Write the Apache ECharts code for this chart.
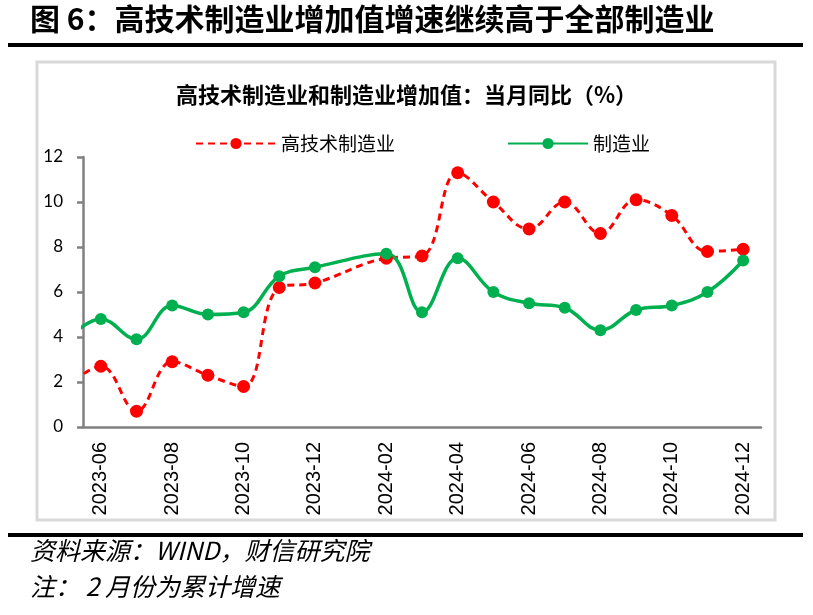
<!DOCTYPE html>
<html>
<head>
<meta charset="utf-8">
<script src="https://cdn.jsdelivr.net/npm/echarts@6/dist/echarts.min.js"></script>
<style>
html,body{margin:0;padding:0;background:#fff;}
#chart{width:813px;height:615px;}
</style>
</head>
<body>
<div id="chart"></div>
<script>
// Category axis (months shown on the axis)
const categories = ['2023-06','2023-07','2023-08','2023-09','2023-10','2023-11','2023-12',
  '2024-01','2024-02','2024-03','2024-04','2024-05','2024-06','2024-07','2024-08','2024-09',
  '2024-10','2024-11','2024-12'];
// Data months (2023-05 lies just before the visible axis; 2024-01 not published)
const dataMonths = ['2023-05','2023-06','2023-07','2023-08','2023-09','2023-10','2023-11','2023-12',
  '2024-02','2024-03','2024-04','2024-05','2024-06','2024-07','2024-08','2024-09',
  '2024-10','2024-11','2024-12'];
const hiTech = [1.7,2.7,0.7,2.9,2.3,1.8,6.2,6.4,7.5,7.6,11.3,10.0,8.8,10.0,8.6,10.1,9.4,7.8,7.9];
const manuf  = [3.8,4.8,3.9,5.4,5.0,5.1,6.7,7.1,7.7,5.1,7.5,6.0,5.5,5.3,4.3,5.2,5.4,6.0,7.4];
const yTicks = [0,2,4,6,8,10,12];

function idx(m){
  const i = categories.indexOf(m);
  if (i >= 0) return i;
  return -1; // month before first category
}
const hiData = dataMonths.map((m,i)=>[idx(m), hiTech[i]]);
const mfData = dataMonths.map((m,i)=>[idx(m), manuf[i]]);

const chart = echarts.init(document.getElementById('chart'), null, {renderer:'canvas'});
const cjk = '"Noto Sans CJK SC", "Noto Sans", sans-serif';
chart.setOption({
  animation:false,
  backgroundColor:'#fff',
  title:{
    text:'高技术制造业和制造业增加值：当月同比（%）',
    left:'center', top:79,
    textStyle:{fontFamily:cjk, fontSize:22, fontWeight:'bold', color:'#000'}
  },
  legend:{
    top:129, left:190,
    itemWidth:80, itemHeight:14, itemGap:112,
    textStyle:{fontFamily:cjk, fontSize:19, color:'#000'},
    data:['高技术制造业','制造业']
  },
  grid:{left:83, right:52, top:157, bottom:188, containLabel:false},
  xAxis:[{
    type:'category', data:categories, boundaryGap:true,
    axisLine:{lineStyle:{color:'#808080', width:2.5}},
    axisTick:{interval:1, length:6, lineStyle:{color:'#808080', width:2.5}},
    axisLabel:{interval:1, rotate:90, fontFamily:'"Liberation Sans Narrow", "Liberation Sans", Arial, sans-serif', fontSize:20, color:'#000', margin:15}
  },{
    type:'value', min:-0.5, max:18.5, show:false
  }],
  yAxis:{
    type:'value', min:yTicks[0], max:yTicks[yTicks.length-1], interval:2,
    axisLine:{show:true, onZero:false, lineStyle:{color:'#808080', width:2.5}},
    axisTick:{show:true, length:6, lineStyle:{color:'#808080', width:2.5}},
    splitLine:{show:false},
    axisLabel:{fontFamily:'Lato, "Noto Sans", sans-serif', fontSize:17, color:'#000', margin:20}
  },
  series:[{
    name:'高技术制造业', type:'line', xAxisIndex:1, data:hiData,
    smooth:0.4, clip:true, symbol:'circle', symbolSize:13,
    lineStyle:{color:'#ff0000', width:3, type:[7,5]},
    itemStyle:{color:'#ff0000'}
  },{
    name:'制造业', type:'line', xAxisIndex:1, data:mfData,
    smooth:0.4, clip:true, symbol:'circle', symbolSize:12,
    lineStyle:{color:'#00b050', width:3.5},
    itemStyle:{color:'#00b050'}
  }],
  graphic:[
    {type:'text', left:30, top:4, style:{text:'图 6：高技术制造业增加值增速继续高于全部制造业', font:'bold 30px "Noto Sans CJK SC", sans-serif', fill:'#000'}},
    {type:'rect', shape:{x:8, y:43, width:795, height:4}, style:{fill:'#000'}},
    {type:'rect', shape:{x:37, y:62, width:738, height:458}, style:{fill:'none', stroke:'#d9d9d9', lineWidth:3}, z:-1},
    {type:'rect', shape:{x:8, y:533, width:795, height:4}, style:{fill:'#000'}},
    {type:'text', left:30, top:538, style:{text:'资料来源：WIND，财信研究院', font:'italic 25px "Noto Sans CJK SC", sans-serif', fill:'#000'}},
    {type:'text', left:30, top:574, style:{text:'注： 2 月份为累计增速', font:'italic 25px "Noto Sans CJK SC", sans-serif', fill:'#000'}}
  ]
});
</script>
</body>
</html>
